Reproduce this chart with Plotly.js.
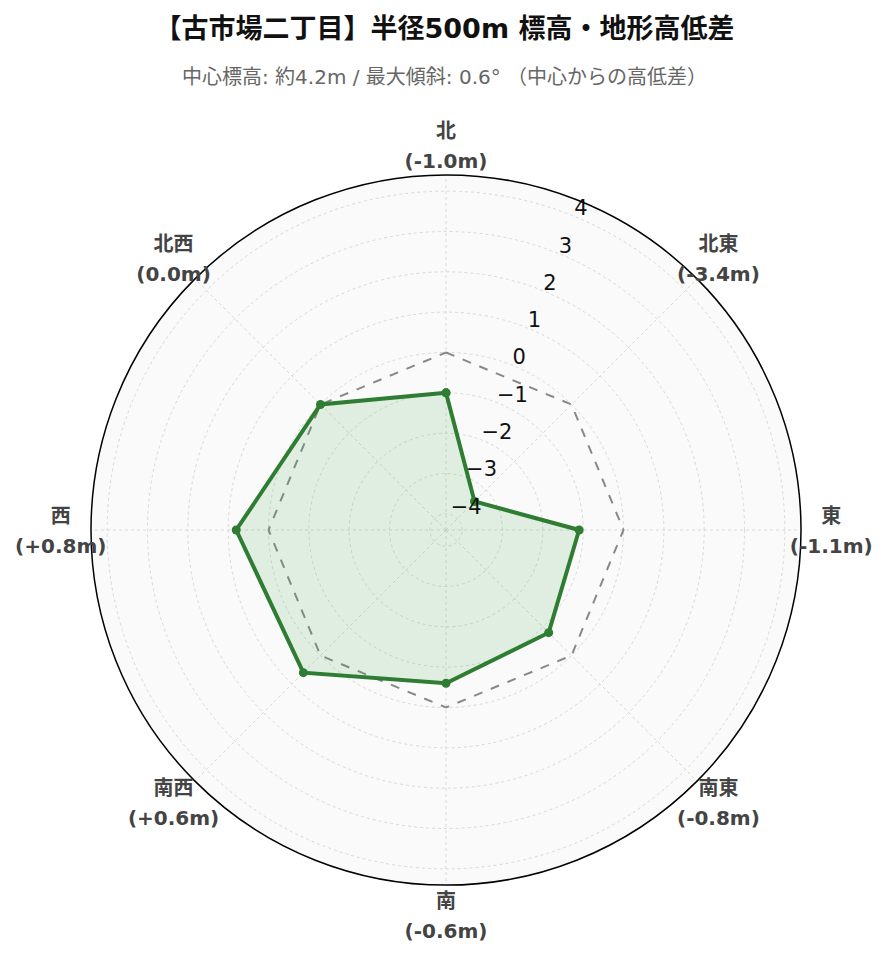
<!DOCTYPE html>
<html>
<head>
<meta charset="utf-8">
<script src="https://cdn.plot.ly/plotly-3.0.1.min.js"></script>
<style>
  html, body { margin: 0; padding: 0; background: #fff; }
  #chart { width: 889px; height: 962px; }
</style>
</head>
<body>
<div id="chart"></div>
<script>
// 方位ごとの中心からの高低差 (m)
const directions = ['北', '北東', '東', '南東', '南', '南西', '西', '北西'];
const diffs = [-1.0, -3.4, -1.1, -0.8, -0.6, 0.6, 0.8, 0.0];
const baseline = [0, 0, 0, 0, 0, 0, 0, 0];
const radialTicks = [-4, -3, -2, -1, 0, 1, 2, 3, 4];
const radialRange = [-4.4, 4.4];

const FONT = '"DejaVu Sans", "Noto Sans CJK JP", sans-serif';
const W = 889, H = 962;

// chart geometry (px): centre of the radar and radius of the outer ring
const cx = 446, cy = 530, radius = 355;
// a second, larger transparent polar carries the direction labels outside the ring
const outerRadius = 430;
const pxPerUnit = radius / (radialRange[1] - radialRange[0]);
const outerRange = [radialRange[0], radialRange[0] + outerRadius / pxPerUnit];

const dom = rad => ({
    x: [(cx - rad) / W, (cx + rad) / W],
    y: [1 - (cy + rad) / H, 1 - (cy - rad) / H]
});

const fmt = v => (v > 0 ? '+' : '') + v.toFixed(1) + 'm';
const angles = directions.map((d, i) => i * 360 / directions.length);

// close the polygons
const thetaClosed = angles.concat(angles[0]);
const diffsClosed = diffs.concat(diffs[0]);
const baseClosed = baseline.concat(baseline[0]);

const labelR = radialRange[1] + 0.75;
const radialLabelTheta = angles[1] / 2;
const radialLabelNudge = 0.1;  // sit the tick labels a touch lower on the axis

const traces = [
    {
        type: 'scatterpolar',
        r: baseClosed,
        theta: thetaClosed,
        mode: 'lines',
        line: { color: '#888888', width: 2, dash: 'dash' },
        hoverinfo: 'skip',
        showlegend: false
    },
    {
        type: 'scatterpolar',
        r: diffsClosed,
        theta: thetaClosed,
        mode: 'lines+markers',
        fill: 'toself',
        fillcolor: 'rgba(76, 175, 80, 0.15)',
        line: { color: '#2e7d32', width: 4 },
        marker: { color: '#2e7d32', size: 9 },
        showlegend: false
    },
    {
        // radial tick labels
        type: 'scatterpolar',
        r: radialTicks.map(v => v - radialLabelNudge),
        theta: radialTicks.map(() => radialLabelTheta),
        mode: 'text',
        text: radialTicks.map(v => (v < 0 ? '\u2212' + Math.abs(v) : String(v))),
        textposition: 'top right',
        textfont: { family: FONT, size: 21, color: '#111111' },
        cliponaxis: false,
        hoverinfo: 'skip',
        showlegend: false
    },
    {
        // direction names
        type: 'scatterpolar',
        subplot: 'polar2',
        r: angles.map(() => labelR),
        theta: angles,
        mode: 'markers+text',
        text: directions.map(d => '<b>' + d + '</b>'),
        textposition: 'top center',
        textfont: { family: FONT, size: 20, color: '#444444' },
        marker: { size: 1.6, color: 'rgba(0,0,0,0)' },
        hoverinfo: 'skip',
        showlegend: false
    },
    {
        // height difference per direction
        type: 'scatterpolar',
        subplot: 'polar2',
        r: angles.map(() => labelR),
        theta: angles,
        mode: 'markers+text',
        text: diffs.map(v => '<b>(' + fmt(v) + ')</b>'),
        textposition: 'bottom center',
        textfont: { family: FONT, size: 20, color: '#444444' },
        marker: { size: 11.2, color: 'rgba(0,0,0,0)' },
        hoverinfo: 'skip',
        showlegend: false
    }
];

const hiddenAngular = {
    type: 'linear',
    thetaunit: 'degrees',
    rotation: 90,
    direction: 'clockwise',
    showticklabels: false,
    showline: false,
    showgrid: false,
    ticks: ''
};

const layout = {
    width: W,
    height: H,
    margin: { l: 0, r: 0, t: 0, b: 0 },
    paper_bgcolor: '#ffffff',
    font: { family: FONT, color: '#333333' },
    title: {
        text: '<b>【古市場二丁目】半径500m 標高・地形高低差</b>',
        font: { family: FONT, size: 27, color: '#111111' },
        x: 0.5,
        xanchor: 'center',
        y: 0.97,
        yanchor: 'middle'
    },
    annotations: [
        {
            text: '中心標高: 約4.2m / 最大傾斜: 0.6° （中心からの高低差）',
            xref: 'paper', yref: 'paper',
            x: 0.5, y: 1 - 77 / H,
            xanchor: 'center', yanchor: 'middle',
            showarrow: false,
            font: { family: FONT, size: 20, color: '#666666' }
        }
    ],
    polar2: {
        domain: dom(outerRadius),
        bgcolor: 'rgba(0,0,0,0)',
        angularaxis: hiddenAngular,
        radialaxis: {
            range: outerRange,
            visible: false
        }
    },
    polar: {
        domain: dom(radius),
        bgcolor: '#fafafa',
        angularaxis: {
            type: 'linear',
            thetaunit: 'degrees',
            rotation: 90,
            direction: 'clockwise',
            tickvals: angles,
            showticklabels: false,
            showline: true,
            linecolor: '#000000',
            linewidth: 1.5,
            gridcolor: '#d8d8d8',
            griddash: 'dot',
            ticks: ''
        },
        radialaxis: {
            range: radialRange,
            tickvals: radialTicks,
            showticklabels: false,
            showline: false,
            ticks: '',
            gridcolor: '#d8d8d8',
            griddash: 'dot'
        }
    }
};

Plotly.newPlot('chart', traces, layout, { displayModeBar: false });
</script>
</body>
</html>
